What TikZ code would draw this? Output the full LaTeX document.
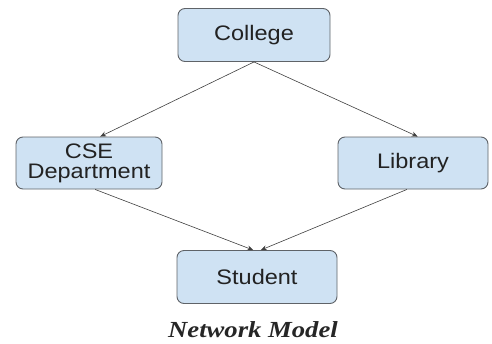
\documentclass[tikz,border=0pt]{standalone}
\usepackage{fontspec}
\usepackage{tikz}
\usetikzlibrary{arrows.meta}
\newfontfamily\boxfont[FakeStretch=1.12]{Liberation Sans}
\newfontfamily\titlefont[FakeStretch=1.16]{Liberation Serif}
\definecolor{BoxFill}{RGB}{207,226,243}
\definecolor{BoxLine}{RGB}{95,99,104}
\definecolor{BoxText}{RGB}{34,34,34}

\begin{document}
\begin{tikzpicture}[x=1pt,y=-1pt,
ent/.style n args={2}{draw=BoxLine,fill=BoxFill,line width=0.9pt,rounded corners=7pt,rectangle,minimum width=#1pt,minimum height=#2pt,align=center,text=BoxText,font=\boxfont\fontsize{21}{20}\selectfont},
lnk/.style={-{Stealth[length=6pt,width=5pt]},line width=0.6pt,draw=black!75}]
\useasboundingbox (0,0) rectangle (492,343);
   \node[ent={152}{53}](college) at(254,35) {College};
   \node[ent={146}{52}](cse) at(89,163) {CSE\\Department};
   \node[ent={150}{52}](library) at(413,163) {Library};
   \node[ent={160}{53}](student) at(257,277) {Student};
   \node[font=\titlefont\bfseries\itshape\fontsize{23}{25}\selectfont,text=black!85](title) at(253,330) {Network Model};
\draw[lnk] (college.south) -- (cse.67);
\draw[lnk] (college.south) -- (library.80);
\draw[lnk] (cse.-77) -- (student.98);
\draw[lnk] (library.-103) -- (student.82);
\end{tikzpicture}
\end{document}
